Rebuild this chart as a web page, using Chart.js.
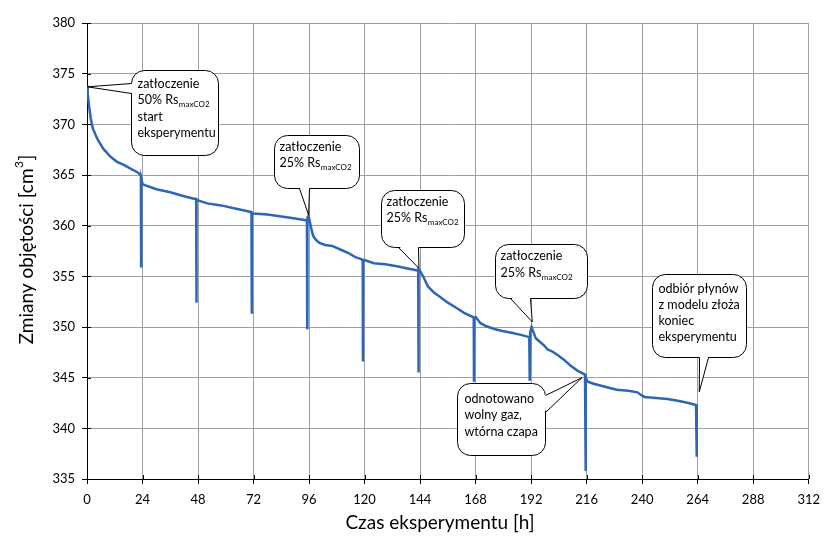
<!DOCTYPE html>
<html><head><meta charset="utf-8">
<script src="https://cdn.jsdelivr.net/npm/chart.js@4"></script>
<style>html,body{margin:0;padding:0;background:#fff}canvas{display:block}</style>
</head><body>
<canvas id="c" width="828" height="541"></canvas>
<script>
// ---- data ----
const hours = [
  0, 0.3, 0.8, 1.6, 2.5, 4.4, 7, 10.2, 13, 15.9, 19, 21.6, 23.3,
  23.4, 23.5, 24, 25, 30, 36, 42, 47.2,
  47.3, 47.4, 48, 52, 58, 64, 70, 71.1,
  71.2, 71.3, 72, 78, 84, 90, 94, 95.1,
  95.2, 95.3, 95.8, 96.5, 97.5, 98, 99, 100.5, 103, 106, 110, 113, 116, 118.5, 119.2,
  119.3, 119.4, 120, 124, 129, 134, 138, 142.4, 143.2,
  143.3, 143.4, 143.8, 145.3, 147.4, 150, 152.4, 156, 159.6, 163, 166.7, 167.2,
  167.3, 167.4, 168, 170, 172.4, 176, 179.6, 184, 188, 191.2,
  191.4, 191.6, 192.2, 193, 194, 196, 198, 199, 201, 203, 206, 209, 212, 215.3,
  215.5, 215.7, 216.5, 219, 224, 229, 234, 238, 239.5, 241, 246, 251, 256, 260, 263.3,
  263.5, 263.7
];
const volume = [
  373.8, 373.0, 372.0, 370.6, 369.6, 368.6, 367.6, 366.8, 366.3, 366.0, 365.6, 365.3, 365.0,
  356.0, 364.6, 364.1, 364.0, 363.6, 363.3, 362.9, 362.6,
  352.4, 362.6, 362.5, 362.2, 362.0, 361.7, 361.4, 361.3,
  351.3, 361.3, 361.2, 361.1, 360.9, 360.7, 360.55, 360.5,
  349.9, 360.8, 361.0, 360.2, 359.2, 358.9, 358.6, 358.3, 358.1, 358.0, 357.6, 357.3, 356.9, 356.7, 356.6,
  346.6, 356.6, 356.6, 356.3, 356.2, 356.0, 355.8, 355.6, 355.5,
  345.5, 355.7, 355.6, 355.0, 354.0, 353.4, 353.0, 352.4, 351.9, 351.4, 351.0, 350.9,
  344.6, 350.9, 351.0, 350.4, 350.1, 349.8, 349.6, 349.4, 349.2, 349.0,
  344.7, 349.5, 350.0, 349.5, 348.9, 348.5, 348.1, 347.8, 347.6, 347.3, 346.8, 346.2, 345.7, 345.3,
  335.8, 345.0, 344.6, 344.4, 344.1, 343.8, 343.7, 343.55, 343.3, 343.1, 343.0, 342.9, 342.7, 342.5, 342.3,
  337.2, 337.3
];
const xTickValues = [0, 24, 48, 72, 96, 120, 144, 168, 192, 216, 240, 264, 288, 312];
const yTickValues = [335, 340, 345, 350, 355, 360, 365, 370, 375, 380];
const xTitle = 'Czas eksperymentu [h]';
const yTitle = 'Zmiany objętości [cm';
const yTitleSup = '3';
// callout anchors (h, value) and texts; segments with sub:true are subscripts
const calloutHours = [0.2, 95.8, 143.5, 192.5, 214.0, 264.7];
const calloutValues = [373.7, 361.05, 355.8, 350.5, 345.0, 343.6];
const calloutTexts = [
  [[{t:'zatłoczenie'}], [{t:'50% Rs'}, {t:'maxCO2', sub:true}], [{t:'start'}], [{t:'eksperymentu'}]],
  [[{t:'zatłoczenie'}], [{t:'25% Rs'}, {t:'maxCO2', sub:true}]],
  [[{t:'zatłoczenie'}], [{t:'25% Rs'}, {t:'maxCO2', sub:true}]],
  [[{t:'zatłoczenie'}], [{t:'25% Rs'}, {t:'maxCO2', sub:true}]],
  [[{t:'odnotowano'}], [{t:'wolny gaz,'}], [{t:'wtórna czapa'}]],
  [[{t:'odbiór płynów'}], [{t:'z modelu złoża'}], [{t:'koniec'}], [{t:'eksperymentu'}]]
];
// callout box layout (pixel offsets from anchor)
const calloutLayout = [
  {dx:44, dy:-17, w:87, h:85, side:'left', a:13, b:23, tx:6, ty:17, lh:16.6},
  {dx:-35, dy:-80, w:85, h:53, side:'bottom', a:25, b:35, tx:5, ty:15, lh:16.8},
  {dx:-38, dy:-78, w:83, h:57, side:'bottom', a:17, b:37, tx:5, ty:15, lh:16.8},
  {dx:-37, dy:-78, w:92, h:54, side:'bottom', a:15, b:35, tx:5, ty:15, lh:17.5},
  {dx:-125, dy:5, w:88, h:72, side:'right', a:12, b:29, tx:7, ty:19, lh:16.7},
  {dx:-47, dy:-118, w:94, h:83, side:'bottom', a:47, b:56, tx:6, ty:18, lh:16.2}
];

const FONT = 'Lato, "Open Sans", sans-serif';

function roundRectPath(ctx, x, y, w, h, r) {
  ctx.beginPath();
  ctx.moveTo(x + r, y);
  ctx.lineTo(x + w - r, y);
  ctx.arcTo(x + w, y, x + w, y + r, r);
  ctx.lineTo(x + w, y + h - r);
  ctx.arcTo(x + w, y + h, x + w - r, y + h, r);
  ctx.lineTo(x + r, y + h);
  ctx.arcTo(x, y + h, x, y + h - r, r);
  ctx.lineTo(x, y + r);
  ctx.arcTo(x, y, x + r, y, r);
  ctx.closePath();
}

const decorPlugin = {
  id: 'decor',
  afterDraw(chart) {
    const ctx = chart.ctx;
    const xs = chart.scales.x, ys = chart.scales.y;
    const area = chart.chartArea;
    ctx.save();
    // inner tick marks
    ctx.strokeStyle = '#000';
    ctx.lineWidth = 1;
    ctx.beginPath();
    xTickValues.forEach(v => {
      const px = Math.round(xs.getPixelForValue(v)) + 0.5;
      ctx.moveTo(px, area.bottom);
      ctx.lineTo(px, area.bottom - 4);
    });
    yTickValues.forEach(v => {
      const py = Math.round(ys.getPixelForValue(v)) + 0.5;
      ctx.moveTo(area.left, py);
      ctx.lineTo(area.left + 4, py);
    });
    ctx.stroke();

    // axis titles
    ctx.fillStyle = '#000';
    ctx.font = '19px ' + FONT;
    ctx.textAlign = 'center';
    ctx.textBaseline = 'alphabetic';
    ctx.fillText(xTitle, 440, 529);
    ctx.save();
    ctx.translate(33, 250);
    ctx.rotate(-Math.PI / 2);
    ctx.font = '19px ' + FONT;
    const w1 = ctx.measureText(yTitle).width;
    ctx.font = '12px ' + FONT;
    const w2 = ctx.measureText(yTitleSup).width;
    ctx.font = '19px ' + FONT;
    const w3 = ctx.measureText(']').width;
    let sx = -(w1 + w2 + w3) / 2;
    ctx.textAlign = 'left';
    ctx.fillText(yTitle, sx, 0);
    ctx.font = '12px ' + FONT;
    ctx.fillText(yTitleSup, sx + w1 + 0.5, -10);
    ctx.font = '19px ' + FONT;
    ctx.fillText(']', sx + w1 + w2 + 1, 0);
    ctx.restore();

    // callouts
    calloutTexts.forEach((lines, i) => {
      const L = calloutLayout[i];
      const tx = xs.getPixelForValue(calloutHours[i]);
      const ty = ys.getPixelForValue(calloutValues[i]);
      const bx = Math.round(tx + L.dx) + 0.5, by = Math.round(ty + L.dy) + 0.5;
      ctx.lineWidth = 1;
      ctx.strokeStyle = '#000';
      ctx.fillStyle = '#fff';
      roundRectPath(ctx, bx, by, L.w, L.h, 13);
      ctx.fill();
      ctx.stroke();
      let p1, p2, q1, q2;
      if (L.side === 'left') {
        p1 = [bx, by + L.a]; p2 = [bx, by + L.b];
        q1 = [bx + 2, by + L.a]; q2 = [bx + 2, by + L.b];
      } else if (L.side === 'right') {
        p1 = [bx + L.w, by + L.a]; p2 = [bx + L.w, by + L.b];
        q1 = [bx + L.w - 2, by + L.a]; q2 = [bx + L.w - 2, by + L.b];
      } else {
        p1 = [bx + L.a, by + L.h]; p2 = [bx + L.b, by + L.h];
        q1 = [bx + L.a, by + L.h - 2]; q2 = [bx + L.b, by + L.h - 2];
      }
      ctx.beginPath();
      ctx.moveTo(q1[0], q1[1]);
      ctx.lineTo(tx, ty);
      ctx.lineTo(q2[0], q2[1]);
      ctx.closePath();
      ctx.fill();
      ctx.beginPath();
      ctx.moveTo(p1[0], p1[1]);
      ctx.lineTo(tx, ty);
      ctx.lineTo(p2[0], p2[1]);
      ctx.stroke();
      // text
      ctx.fillStyle = '#000';
      ctx.textAlign = 'left';
      ctx.textBaseline = 'alphabetic';
      lines.forEach((segs, j) => {
        let x = bx + L.tx;
        const y = by + L.ty + j * L.lh;
        segs.forEach(s => {
          if (s.sub) {
            ctx.font = '8px ' + FONT;
            ctx.fillText(s.t, x + 0.5, y + 3);
            x += ctx.measureText(s.t).width + 0.5;
          } else {
            ctx.font = '12.5px ' + FONT;
            ctx.fillText(s.t, x, y);
            x += ctx.measureText(s.t).width;
          }
        });
      });
    });
    ctx.restore();
  }
};

const points = hours.map((h, i) => ({x: h, y: volume[i]}));

new Chart(document.getElementById('c'), {
  type: 'line',
  data: {
    datasets: [{
      data: points,
      borderColor: '#2e66b6',
      borderWidth: 2.5,
      pointRadius: 0,
      tension: 0,
      fill: false
    }]
  },
  options: {
    responsive: false,
    animation: false,
    devicePixelRatio: 1,
    layout: {padding: {left: 0, right: 15, top: 23, bottom: 0}},
    plugins: {legend: {display: false}, tooltip: {enabled: false}, title: {display: false}},
    scales: {
      x: {
        type: 'linear', min: 0, max: 312,
        afterBuildTicks: s => { s.ticks = xTickValues.map(v => ({value: v})); },
        afterFit: s => { s.height = 62; },
        grid: {color: '#a0a0a0', tickColor: '#000', tickLength: 5, lineWidth: 1},
        border: {color: '#000', width: 1},
        ticks: {color: '#000', font: {family: FONT, size: 13}, padding: 8, maxRotation: 0, autoSkip: false}
      },
      y: {
        type: 'linear', min: 335, max: 380,
        afterBuildTicks: s => { s.ticks = yTickValues.map(v => ({value: v})); },
        afterFit: s => { s.width = 87; },
        grid: {color: '#a0a0a0', tickColor: '#000', tickLength: 5, lineWidth: 1},
        border: {color: '#000', width: 1},
        ticks: {color: '#000', font: {family: FONT, size: 13}, padding: 7}
      }
    }
  },
  plugins: [decorPlugin]
});
</script>
</body></html>
